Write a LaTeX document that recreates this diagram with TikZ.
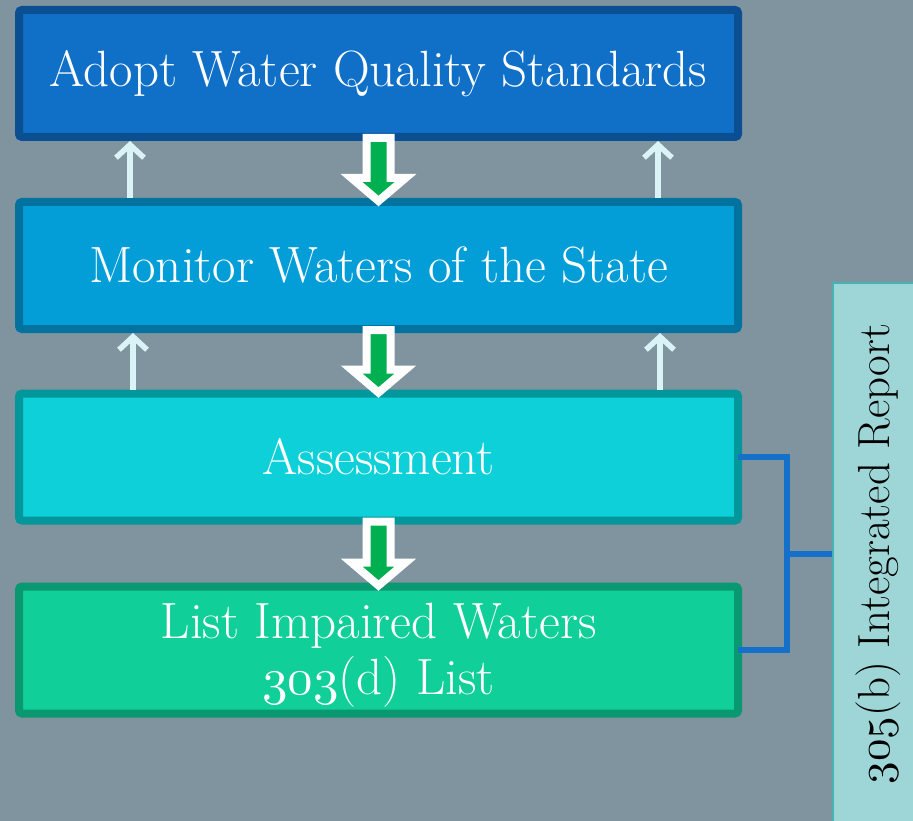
\documentclass[tikz,border=0pt]{standalone}
\usetikzlibrary{arrows.meta,calc}
\definecolor{bgc}{HTML}{8094A0}
\definecolor{fillA}{HTML}{1070C8}
\definecolor{lineA}{HTML}{0A4F91}
\definecolor{fillB}{HTML}{039ED8}
\definecolor{lineB}{HTML}{03729F}
\definecolor{fillC}{HTML}{0DD0D8}
\definecolor{lineC}{HTML}{03979C}
\definecolor{fillD}{HTML}{11CF98}
\definecolor{lineD}{HTML}{0A9870}
\definecolor{arrgreen}{HTML}{00B050}
\definecolor{upcol}{HTML}{D9F3F6}
\definecolor{brk}{HTML}{1470C8}
\definecolor{sidefill}{HTML}{9ED6D8}
\definecolor{sideline}{HTML}{45B2B4}
\DeclareFontFamily{OML}{myosf}{\skewchar\font=127 }
\DeclareFontShape{OML}{myosf}{m}{it}{<->cmmi10}{}
\newcommand\osn[1]{{\usefont{OML}{myosf}{m}{it}#1}}
\newcommand\hollowarrow[2]{%
  \draw[hollow] ($(#1.south)+(-12,-3)$) -- ($(#2.north)+(-12,-20)$) -- ($(#2.north)+(-27,-20)$)
    -- ($(#2.north)+(0,3)$) -- ($(#2.north)+(27,-20)$) -- ($(#2.north)+(12,-20)$)
    -- ($(#1.south)+(12,-3)$) -- cycle;}
\begin{document}
\begin{tikzpicture}[x=1pt,y=-1pt,
  box/.style={draw, line width=8pt, rounded corners=3pt, minimum width=719pt,
    minimum height=127pt, text=white, font=\fontsize{51}{58}\selectfont,
    align=center, inner sep=0pt},
  hollow/.style={fill=arrgreen, draw=white, line width=8pt, line join=miter},
  uparrow/.style={draw=upcol, line width=5.5pt, -{Straight Barb[length=13pt,width=28pt]}},
  bracket/.style={draw=brk, line width=6pt},
  sidebox/.style={draw=sideline, fill=sidefill, line width=2pt, minimum width=90pt,
    minimum height=542pt, inner sep=0pt, font=\fontsize{45}{52}\selectfont}]
\fill[bgc] (0,0) rectangle (913,821);
\useasboundingbox (0,0) rectangle (913,821);
\clip (0,0) rectangle (913,821);

\node[box, fill=fillA, draw=lineA] (b1) at (378.5,73.5) {Adopt Water Quality Standards};
\node[box, fill=fillB, draw=lineB] (b2) at (378.5,265.5) {Monitor Waters of the State};
\node[box, fill=fillC, draw=lineC] (b3) at (378.5,457) {Assessment};
\node[box, fill=fillD, draw=lineD] (b4) at (378.5,650) {\rule{0pt}{46pt}List Impaired Waters\\[-2pt]\osn{303}(d) List};

\node[sidebox] (side) at (878,554) {\rotatebox{90}{\osn{305}(b) Integrated Report}};

\draw[uparrow] ([xshift=-248.5pt]b2.north) -- ([xshift=-248.5pt]b1.south);
\draw[uparrow] ([xshift=279.5pt]b2.north) -- ([xshift=279.5pt]b1.south);
\draw[uparrow] ([xshift=-245.5pt]b3.north) -- ([xshift=-245.5pt]b2.south);
\draw[uparrow] ([xshift=281.5pt]b3.north) -- ([xshift=281.5pt]b2.south);

\hollowarrow{b1}{b2}
\hollowarrow{b2}{b3}
\hollowarrow{b3}{b4}

\coordinate (bx) at (787,554);
\draw[bracket] ([xshift=-4pt]b3.east) -| (bx) |- ([xshift=-4pt]b4.east);
\draw[bracket] (bx |- side.west) -- (side.west);
\end{tikzpicture}
\end{document}
